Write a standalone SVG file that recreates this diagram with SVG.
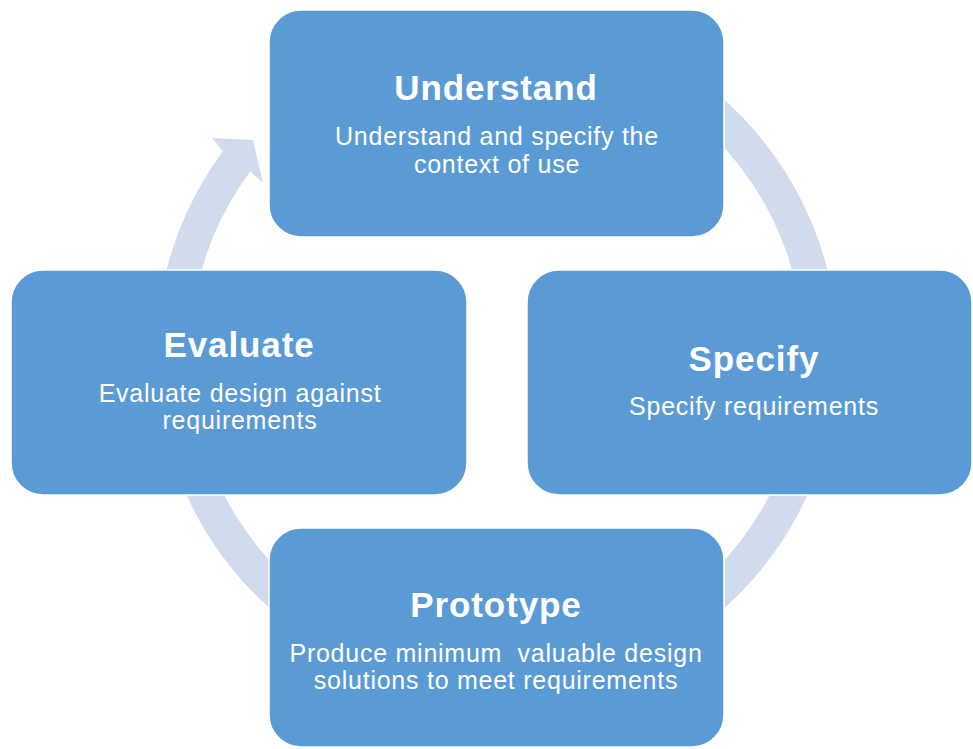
<svg xmlns="http://www.w3.org/2000/svg" width="973" height="749" viewBox="0 0 973 749">
  <style>
    .box { fill: #5B9BD5; stroke: #FFFFFF; stroke-width: 1.5; }
    .ring { fill: #D0DCEE; stroke: none; }
    .title { font-family: "Liberation Sans", Arial, sans-serif; font-weight: bold; font-size: 35px; letter-spacing: 0.9px; fill: #FFFFFF; text-anchor: middle; }
    .sub { font-family: "Liberation Sans", Arial, sans-serif; font-size: 25px; letter-spacing: 0.75px; fill: #FFFFFF; text-anchor: middle; }
  </style>
  <rect x="0" y="0" width="973" height="749" fill="#FFFFFF"/>
  <g id="connectors">
    <path class="ring" d="M 291.8 81.7 A 341 341 0 1 1 222.9 151.2 L 212 138 L 253 140 L 263 183 L 250.2 171.4 A 307 307 0 1 0 312.3 108.8 Z"/>
  </g>
  <g id="node-understand">
    <rect class="box" x="269" y="10" width="455" height="227" rx="32" ry="32"/>
    <text class="title" x="496" y="100">Understand</text>
    <text class="sub" x="497" y="145">Understand and specify the</text>
    <text class="sub" x="497" y="173">context of use</text>
  </g>
  <g id="node-evaluate">
    <rect class="box" x="11" y="270" width="456" height="225" rx="32" ry="32"/>
    <text class="title" x="239" y="357">Evaluate</text>
    <text class="sub" x="240" y="402">Evaluate design against</text>
    <text class="sub" x="240" y="429">requirements</text>
  </g>
  <g id="node-specify">
    <rect class="box" x="527" y="270" width="445" height="225" rx="32" ry="32"/>
    <text class="title" x="754" y="371">Specify</text>
    <text class="sub" x="754" y="415">Specify requirements</text>
  </g>
  <g id="node-prototype">
    <rect class="box" x="269" y="528" width="455" height="219" rx="32" ry="32"/>
    <text class="title" x="496" y="617">Prototype</text>
    <text class="sub" x="496" y="662" xml:space="preserve">Produce minimum  valuable design</text>
    <text class="sub" x="496" y="689">solutions to meet requirements</text>
  </g>
</svg>
